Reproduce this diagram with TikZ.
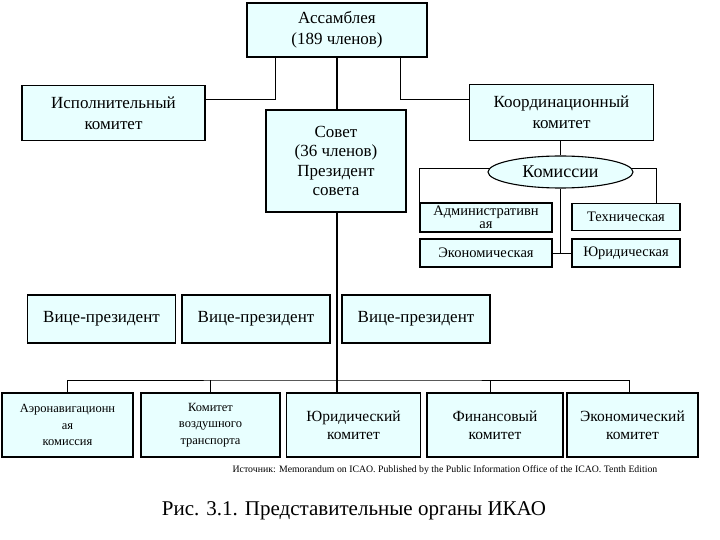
\documentclass[tikz,border=0pt]{standalone}
\usepackage{fontspec}
\setmainfont{Liberation Serif}
\usetikzlibrary{calc,positioning,shapes.geometric}
\definecolor{svetlogoluboj}{rgb}{0.91,1,1}
\tikzset{
  organ/.style={
    draw=black,
    fill=svetlogoluboj,
    line width=1.1pt,
    align=center,
    inner sep=2pt,
    font=\fontsize{17}{21}\selectfont
  },
  malyj/.style={
    organ,
    minimum height=28,
    inner sep=0pt,
    font=\fontsize{14.5}{13.5}\selectfont
  },
  vice/.style={
    organ,
    minimum width=148,
    minimum height=48
  },
  nizhnij/.style={
    organ,
    minimum width=131,
    minimum height=64,
    font=\fontsize{15.5}{18}\selectfont
  },
  melkij/.style={
    font=\fontsize{12.5}{16.5}\selectfont
  },
  oval/.style={
    ellipse,
    draw=black,
    fill=svetlogoluboj,
    line width=1.1pt,
    minimum width=145,
    minimum height=32,
    inner sep=0pt,
    font=\fontsize{18}{20}\selectfont
  },
  svyaz/.style={
    line width=1pt,
    black
  },
  stvol/.style={
    line width=2pt,
    black
  }
}

\begin{document}
\begin{tikzpicture}[x=1pt,y=-1pt]
\useasboundingbox[fill=white] (0,0) rectangle (720,540);
\node[organ,minimum width=180,minimum height=54] (assamb) at (337,30) {Ассамблея\\(189 членов)};
\node[organ,minimum width=183,minimum height=55] (ispoln) at (113.5,113) {Исполнительный\\комитет};
\node[organ,minimum width=184,minimum height=56] (koord) at (561.5,112.5) {Координационный\\комитет};
\node[organ,minimum width=140,minimum height=102,font=\fontsize{17}{19.5}\selectfont] (sovet) at (336,161) {Совет\\(36 членов)\\Президент\\совета};
\node[oval] (komis) at (560.5,172) {Комиссии};
\node[malyj,minimum width=132,minimum height=29] (admin) at (486,217.5) {Административн\\ая};
\node[malyj,minimum width=108,minimum height=27] (tehn) at (626,217) {Техническая};
\node[malyj,minimum width=132] (ekon) at (486,253) {Экономическая};
\node[malyj,minimum width=108] (jurid) at (626,253) {Юридическая};
\node[vice] (vice1) at (101.5,319) {Вице-президент};
\node[vice] (vice2) at (256,319) {Вице-президент};
\node[vice] (vice3) at (416,319) {Вице-президент};
\node[nizhnij,melkij] (aero) at (67.5,425) {Аэронавигационн\\ая\\комиссия};
\node[nizhnij,melkij,minimum width=139] (vozd) at (210.5,425) {Комитет\\воздушного\\транспорта};
\node[nizhnij,minimum width=134] (jurkom) at (353.5,425) {Юридический\\комитет};
\node[nizhnij,minimum width=136] (finans) at (495,425) {Финансовый\\комитет};
\node[nizhnij] (ekkom) at (632.5,425) {Экономический\\комитет};
\node[font=\fontsize{9.8}{12}\selectfont] (istochnik) at (445,470) {Источник: Memorandum on ICAO. Published by the Public Information Office of the ICAO. Tenth Edition};
\node[font=\fontsize{21}{24}\selectfont] (podpis) at (354,511) {Рис. 3.1. Представительные органы ИКАО};
\coordinate (razv) at (337,380);
\draw[svyaz] ([xshift=-62pt]assamb.south) |- ([yshift=13.5pt]ispoln.east);
\draw[svyaz] ([xshift=63pt]assamb.south) |- ([yshift=13pt]koord.west);
\draw[stvol] (assamb.south) -- (assamb.south |- sovet.north);
\draw[svyaz] (komis.north |- koord.south) -- (komis.north);
\draw[svyaz] (komis.177) -| (admin.north west);
\draw[svyaz] (komis.3) -| ([xshift=30pt]tehn.north);
\draw[svyaz] (komis.south) -- (komis.south |- ekon.east);
\draw[svyaz] (ekon.east) -- (jurid.west);
\draw[stvol] (sovet.south -| razv) -- (razv |- jurkom.north);
\draw[svyaz] (aero.north) |- (razv) -| ([xshift=-3pt]ekkom.north);
\draw[svyaz] (vozd.north) -- (vozd.north |- razv);
\draw[svyaz] ([xshift=-5pt]finans.north) -- ([xshift=-5pt]finans.north |- razv);
\end{tikzpicture}
\end{document}
